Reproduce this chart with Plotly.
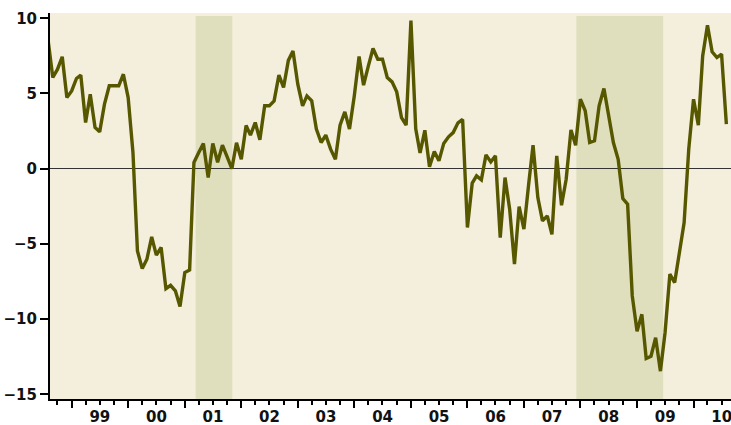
import pandas as pd
import plotly.graph_objects as go

# Monthly series, Aug 1998 .. Aug 2010
start_month = "1998-08-01"
values = [
    8.6, 6.06, 6.6, 7.44, 4.73,                                              # Aug-Dec 1998
    5.17, 6.0, 6.22, 3.07, 4.95, 2.74, 2.45, 4.29, 5.51, 5.51, 5.51, 6.28,    # 1999
    4.73, 1.07, -5.47, -6.64, -6.02, -4.53, -5.75, -5.24, -7.97, -7.75, -8.12, -9.16,  # 2000
    -6.9, -6.73, 0.41, 1.07, 1.68, -0.59, 1.68, 0.43, 1.56, 0.8, 0.0, 1.72,   # 2001
    0.63, 2.87, 2.23, 3.07, 1.92, 4.18, 4.18, 4.51, 6.22, 5.4, 7.2, 7.83,     # 2002
    5.62, 4.18, 4.84, 4.51, 2.63, 1.74, 2.23, 1.3, 0.63, 2.89, 3.78, 2.63,    # 2003
    4.84, 7.46, 5.55, 6.83, 7.99, 7.28, 7.28, 6.06, 5.77, 5.11, 3.4, 2.89,    # 2004
    9.85, 2.65, 1.05, 2.55, 0.13, 1.15, 0.52, 1.68, 2.12, 2.4, 3.05, 3.27,    # 2005
    -3.91, -0.96, -0.48, -0.74, 0.92, 0.45, 0.85, -4.58, -0.59, -2.69, -6.35, -2.52,  # 2006
    -4.02, -1.0, 1.56, -1.92, -3.47, -3.14, -4.36, 0.85, -2.43, -0.7, 2.58, 1.56,     # 2007
    4.62, 3.85, 1.74, 1.85, 4.18, 5.33, 3.51, 1.74, 0.63, -1.98, -2.36, -8.46,        # 2008
    -10.8, -9.68, -12.62, -12.47, -11.23, -13.46, -10.9, -7.01, -7.57, -5.45, -3.6, 1.3,  # 2009
    4.62, 2.89, 7.5, 9.54, 7.77, 7.39, 7.61, 2.96,                            # 2010
]
dates = pd.date_range(start_month, periods=len(values), freq="MS")

years = list(range(1999, 2011))
year_labels = ["99", "00", "01", "02", "03", "04", "05", "06", "07", "08", "09", "10"]
label_pos = [f"{y}-07-02" for y in years]

recessions = [("2001-03-12", "2001-11-04"), ("2007-12-06", "2009-06-19")]
y_ticks = [-15, -10, -5, 0, 5, 10]
x_range = ["1998-08-14", "2010-08-31"]

LINE = "#575700"
BG = "#f4efdd"
SHADE = "#dfdfbd"
FONT = dict(family="DejaVu Sans", size=15, color="#111111", weight="bold")

fig = go.Figure()
fig.add_trace(go.Scatter(x=dates, y=values, mode="lines",
                         line=dict(color=LINE, width=3.4), hoverinfo="skip"))
# carrier trace for the year-label axis
fig.add_trace(go.Scatter(x=label_pos, y=[None] * len(label_pos), xaxis="x2",
                         mode="lines", hoverinfo="skip", showlegend=False))

for x0, x1 in recessions:
    fig.add_shape(type="rect", xref="x", yref="y", x0=x0, x1=x1,
                  y0=-15.31, y1=10.15, fillcolor=SHADE, line_width=0, layer="below")

fig.update_layout(
    width=731, height=425,
    margin=dict(l=50, r=0, t=13, b=26, autoexpand=False),
    paper_bgcolor="white", plot_bgcolor=BG,
    showlegend=False, font=FONT,
    xaxis=dict(
        type="date", range=x_range, automargin=False,
        dtick="M12", tick0="1999-01-01", showticklabels=False,
        ticks="outside", ticklen=7, tickwidth=2, tickcolor="black",
        showline=True, linecolor="black", linewidth=2,
        showgrid=False, zeroline=False,
        minor=dict(dtick="M3", tick0="1999-01-01", ticks="outside", ticklen=4,
                   tickwidth=1.5, tickcolor="black", showgrid=False),
    ),
    xaxis2=dict(
        type="date", range=x_range, overlaying="x", anchor="y", side="bottom",
        automargin=False,
        tickmode="array", tickvals=label_pos, ticktext=year_labels,
        ticks="", showline=False, showgrid=False, zeroline=False,
        tickfont=FONT, ticklabelstandoff=7, ticklabeloverflow="allow",
    ),
    yaxis=dict(
        range=[-15.31, 10.35], tickvals=y_ticks, automargin=False,
        ticks="outside", ticklen=8, tickwidth=2, tickcolor="black",
        showline=True, linecolor="black", linewidth=2,
        showgrid=False, zeroline=True, zerolinecolor="#333333", zerolinewidth=1.2,
        tickfont=FONT,
    ),
)

fig.write_html("out.html", config={"displayModeBar": False},
               post_script="document.body.style.margin='0';document.body.style.overflow='hidden';")
